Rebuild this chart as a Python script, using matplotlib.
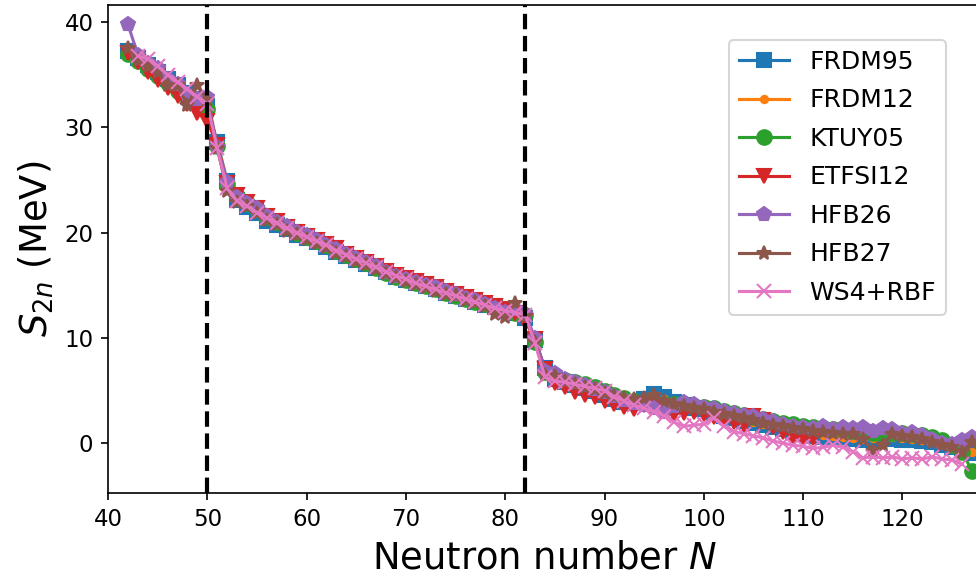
import numpy as np
import matplotlib
matplotlib.use("Agg")
import matplotlib.pyplot as plt

# neutron numbers
N = list(range(42, 128))
N_ws4 = list(range(43, 127))
N_etfsi = list(range(42, 112))

# two-neutron separation energies (MeV)
frdm95 = [37.3, 36.6, 35.9, 35.3, 34.6, 34.0, 33.3, 32.7, 32.0,
          28.6, 24.9, 23.1, 22.4, 21.9, 21.1, 20.7, 20.3, 19.8, 19.5,
          19.1, 18.6, 18.2, 17.8, 17.4, 17.0, 16.6, 16.3, 15.8, 15.5,
          15.2, 14.9, 14.6, 14.3, 14.0, 13.7, 13.4, 13.1, 12.9, 12.6,
          12.4, 11.9, 9.8, 7.1, 6.1, 5.8, 5.5, 5.2, 5.0, 4.6,
          4.2, 3.9, 3.8, 4.2, 4.7, 4.4, 3.9, 3.6, 3.3, 3.2,
          2.9, 2.6, 2.4, 2.1, 1.9, 1.7, 1.5, 1.3, 1.1, 0.9,
          0.7, 0.6, 0.5, 0.4, 0.4, 0.3, 0.3, 0.5, 0.4, 0.3,
          0.3, 0.2, 0.1, -0.2, -0.4, -0.5, -0.9]
frdm12 = [37.2, 36.5, 35.8, 35.2, 34.5, 33.9, 33.2, 32.6, 32.0,
          28.4, 24.8, 23.2, 22.5, 22.0, 21.3, 20.8, 20.3, 19.9, 19.5,
          19.1, 18.7, 18.3, 17.9, 17.5, 17.1, 16.7, 16.3, 15.9, 15.6,
          15.3, 15.0, 14.7, 14.4, 14.1, 13.8, 13.5, 13.2, 12.9, 12.7,
          12.5, 12.1, 9.7, 6.9, 6.2, 5.9, 5.6, 5.3, 5.0, 4.7,
          4.4, 4.1, 3.9, 4.0, 4.3, 4.2, 3.9, 3.7, 3.5, 3.3,
          3.0, 2.8, 2.5, 2.3, 2.0, 1.8, 1.6, 1.4, 1.2, 1.0,
          0.9, 0.8, 0.7, 0.6, 0.5, 0.4, 0.5, 0.7, 0.6, 0.5,
          0.4, 0.3, 0.2, 0.0, -0.2, -0.4, -0.8]
ktuy05 = [37.0, 36.3, 35.5, 34.9, 34.2, 33.5, 32.9, 32.2, 31.7,
          28.2, 24.6, 23.5, 22.8, 22.2, 21.5, 21.0, 20.5, 20.0, 19.6,
          19.2, 18.8, 18.3, 17.9, 17.5, 17.1, 16.6, 16.2, 15.8, 15.5,
          15.2, 14.9, 14.6, 14.3, 14.0, 13.7, 13.4, 13.2, 12.9, 12.7,
          12.4, 12.2, 9.6, 6.8, 6.3, 6.0, 5.8, 5.6, 5.3, 5.0,
          4.6, 4.3, 4.0, 3.9, 3.8, 3.7, 3.7, 3.6, 3.5, 3.4,
          3.3, 3.1, 2.9, 2.7, 2.5, 2.3, 2.1, 1.9, 1.8, 1.6,
          1.5, 1.4, 1.3, 1.3, 1.2, 1.1, 1.0, 0.9, 1.0, 1.0,
          0.9, 0.8, 0.6, 0.3, -0.2, -0.8, -2.6]
etfsi12 = [37.1, 36.2, 35.3, 34.5, 33.7, 33.0, 32.2, 31.4, 30.6,
           28.3, 24.7, 23.6, 22.9, 22.3, 21.6, 21.1, 20.5, 20.1, 19.7,
           19.3, 18.9, 18.5, 18.0, 17.6, 17.2, 16.8, 16.4, 16.0, 15.7,
           15.4, 15.1, 14.8, 14.5, 14.2, 13.9, 13.6, 13.3, 13.0, 12.7,
           12.4, 11.6, 9.9, 7.0, 5.7, 5.3, 4.9, 4.6, 4.4, 4.0,
           3.7, 3.4, 3.2, 3.6, 3.4, 3.1, 2.8, 2.9, 3.0, 2.8,
           2.5, 2.3, 2.0, 1.7, 2.6, 2.2, 1.5, 1.1, 0.6, 0.5,
           0.5]
hfb26 = [39.8, 36.9, 36.1, 35.6, 34.6, 34.1, 33.2, 32.7, 32.9,
         28.1, 24.8, 23.4, 22.8, 22.3, 21.6, 21.0, 20.6, 20.1, 19.8,
         19.3, 18.8, 18.4, 18.0, 17.6, 17.2, 16.8, 16.3, 15.9, 15.6,
         15.3, 15.0, 14.8, 14.5, 14.2, 13.8, 13.6, 13.2, 12.8, 12.5,
         12.7, 12.3, 10.0, 6.9, 6.7, 6.1, 5.8, 5.5, 5.1, 4.9,
         4.5, 4.1, 3.8, 3.6, 3.3, 3.0, 3.5, 3.9, 3.7, 3.4,
         3.3, 3.1, 2.9, 2.7, 2.6, 2.3, 2.1, 1.8, 1.6, 1.5,
         1.4, 1.6, 1.3, 1.5, 1.4, 1.5, 1.2, 1.4, 1.3, 1.0,
         1.1, 0.8, 0.4, 0.0, -0.1, 0.3, 0.6]
hfb27 = [37.5, 36.4, 35.8, 35.3, 34.0, 34.0, 32.1, 34.0, 32.6,
         28.0, 24.0, 22.9, 22.5, 21.9, 21.2, 20.8, 20.2, 19.9, 19.4,
         19.0, 18.6, 18.1, 17.8, 17.3, 17.0, 16.5, 16.2, 15.8, 15.4,
         15.1, 14.8, 14.5, 14.2, 14.1, 13.6, 13.4, 13.0, 12.3, 12.0,
         13.3, 12.1, 9.6, 6.5, 6.4, 5.9, 5.6, 5.3, 5.1, 4.8,
         4.5, 4.3, 4.2, 4.3, 4.6, 4.0, 3.7, 3.5, 3.3, 3.2,
         3.0, 2.8, 2.6, 2.4, 2.2, 1.9, 1.7, 1.6, 1.4, 1.3,
         1.2, 1.1, 1.0, 0.9, 0.9, 0.4, -0.7, -0.2, 0.9, 0.7,
         0.6, 0.4, 0.1, -0.2, -0.4, -0.8, 0.1]
ws4_rbf = [36.8, 36.5, 35.8, 35.0, 34.3, 33.6, 32.9, 32.2,
           28.0, 24.2, 23.0, 22.5, 21.9, 21.4, 20.9, 20.4, 20.0, 19.6,
           19.2, 18.8, 18.3, 17.9, 17.5, 17.1, 16.7, 16.3, 15.9, 15.6,
           15.2, 14.9, 14.6, 14.3, 14.0, 13.7, 13.4, 13.1, 12.8, 12.6,
           12.4, 12.2, 9.5, 6.3, 5.9, 5.8, 5.6, 5.4, 5.2, 5.0,
           4.4, 4.0, 3.6, 3.3, 3.0, 2.6, 2.0, 1.6, 1.7, 1.8,
           2.4, 1.6, 1.1, 0.9, 0.7, 0.5, 0.2, 0.0, -0.2, -0.3,
           -0.5, -0.4, -0.2, -0.4, -0.8, -1.4, -1.3, -1.4, -1.3, -1.5,
           -1.4, -1.5, -1.3, -1.5, -1.6, -2.0]

fig = plt.figure(figsize=(976 / 150, 585 / 150), dpi=150)
ax = fig.add_axes([0.1107, 0.157, 0.8953, 0.8345])

ms = 7
ax.plot(N, frdm95, marker='s', ms=ms, label='FRDM95')
ax.plot(N, frdm12, marker='.', ms=ms, label='FRDM12')
ax.plot(N, ktuy05, marker='o', ms=ms, label='KTUY05')
ax.plot(N_etfsi, etfsi12, marker='v', ms=ms, label='ETFSI12')
ax.plot(N, hfb26, marker='p', ms=ms, label='HFB26')
ax.plot(N, hfb27, marker='*', ms=ms, label='HFB27')
ax.plot(N_ws4, ws4_rbf, marker='x', ms=ms, label='WS4+RBF')

for n in [50, 82]:
    ax.axvline(n, color='k', linestyle='--', lw=2)

ax.set_xlim(40, 128)
ax.set_ylim(-4.75, 41.63)
ax.set_xticks([40, 50, 60, 70, 80, 90, 100, 110, 120])
ax.set_yticks([0, 10, 20, 30, 40])
ax.tick_params(labelsize=11)
ax.set_xlabel('Neutron number $N$', fontsize=17.7)
ax.set_ylabel('$S_{2n}$ (MeV)', fontsize=17.7)

ax.legend(loc='upper right', bbox_to_anchor=(0.969, 0.932),
          bbox_transform=fig.transFigure, borderaxespad=0, fontsize=12,
          labelspacing=0.58)

fig.savefig('out.png', dpi=150)
